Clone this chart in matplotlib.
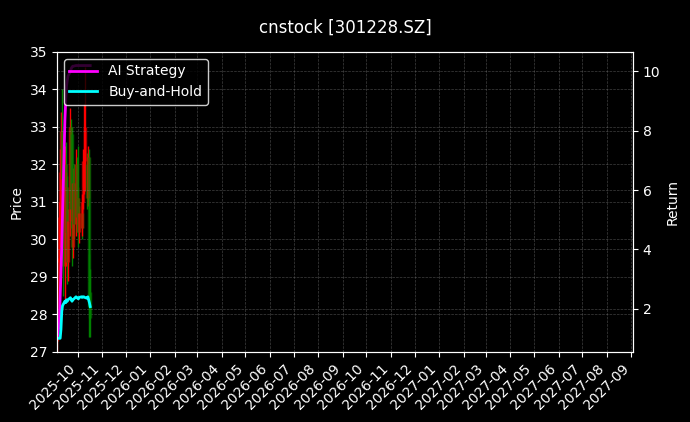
import numpy as np
import pandas as pd
import matplotlib
matplotlib.use("Agg")
import matplotlib.pyplot as plt
import matplotlib.dates as mdates

plt.style.use("dark_background")

# ---- data ----
dates = pd.bdate_range("2025-09-05", "2025-10-17")
opens = [27.3, 29.4, 30.6, 31.8, 32.9, 31.6, 29.3, 32.0, 30.2, 31.4, 29.4,
         30.5, 33.0, 32.8, 29.8, 31.5, 30.4, 32.0, 30.6, 31.1, 30.2, 30.7,
         30.3, 31.0, 31.4, 32.1, 32.0, 31.1, 32.2, 28.9, 28.6]
highs = [29.9, 31.0, 32.4, 33.4, 34.0, 32.8, 32.5, 32.6, 31.8, 31.7, 30.8,
         33.5, 33.2, 33.0, 31.9, 32.0, 32.4, 32.2, 31.4, 32.5, 30.9, 31.0,
         31.2, 32.4, 33.6, 34.6, 32.3, 32.5, 32.4, 29.6, 29.2]
lows = [27.0, 28.2, 29.8, 30.6, 31.2, 28.5, 28.3, 29.6, 29.3, 28.8, 28.9,
        30.1, 30.3, 29.3, 29.5, 30.0, 30.1, 30.2, 30.2, 29.8, 29.9, 30.0,
        30.1, 30.8, 31.2, 31.3, 30.8, 30.9, 28.2, 27.4, 27.4]
closes = [29.5, 30.6, 31.8, 32.9, 31.6, 29.3, 32.0, 30.2, 31.4, 29.4, 30.5,
          33.0, 30.8, 29.8, 31.5, 30.4, 32.0, 30.6, 31.1, 30.2, 30.7, 30.3,
          31.0, 32.1, 32.1, 33.0, 31.1, 32.2, 28.9, 28.2, 27.9]
ai_strategy = [1.0, 1.48, 2.4, 3.2, 4.1, 5.2, 8.36, 9.0, 9.5, 9.7, 9.85,
               10.0, 10.1, 10.15, 10.18, 10.18, 10.2, 10.2, 10.2, 10.2, 10.2, 10.2,
               10.2, 10.2, 10.2, 10.2, 10.2, 10.2, 10.2, 10.2, 10.2]
buy_hold = [1.0, 1.0, 1.0, 1.3, 1.9, 2.1, 2.25, 2.2, 2.3, 2.25, 2.3,
            2.37, 2.3, 2.25, 2.3, 2.32, 2.4, 2.38, 2.35, 2.33, 2.38, 2.4,
            2.38, 2.4, 2.4, 2.38, 2.35, 2.4, 2.3, 2.2, 2.07]

title = "cnstock [301228.SZ]"

# ---- figure ----
fig = plt.figure(figsize=(6.9, 4.22), dpi=100)
ax = fig.add_axes([0.0826, 0.166, 0.8348, 0.711])
ax2 = ax.twinx()

o = np.array(opens); h = np.array(highs); l = np.array(lows); c = np.array(closes)
up = c >= o
cols = np.where(up, "red", "green")
ax.vlines(dates, l, h, colors=cols, linewidth=1.0)
ax.vlines(dates, np.minimum(o, c), np.maximum(o, c), colors=cols, linewidth=2.5, alpha=0.6)

ax2.plot(dates, ai_strategy, color="magenta", linewidth=2, label="AI Strategy")
ax2.plot(dates, buy_hold, color="cyan", linewidth=2, label="Buy-and-Hold")

ax.set_ylim(27, 35)
ax2.set_ylim(0.54, 10.66)
ax.set_xlim(pd.Timestamp("2025-09-05"), pd.Timestamp("2027-09-03"))

ax.xaxis.set_major_locator(mdates.MonthLocator())
ax.xaxis.set_major_formatter(mdates.DateFormatter("%Y-%m"))
plt.setp(ax.get_xticklabels(), rotation=45, ha="right")

ax.set_ylabel("Price", color="white")
ax2.set_ylabel("Return", color="white")

ax.grid(True, linestyle="--", linewidth=0.5, color="gray", alpha=0.5)
ax2.grid(True, linestyle="--", linewidth=0.5, color="gray", alpha=0.5)

for sp in ax2.spines.values():
    sp.set_color("white")

leg = ax2.legend(loc="upper left", facecolor="black", edgecolor="white", framealpha=0.8)
for t in leg.get_texts():
    t.set_color("white")

fig.suptitle(title, color="white", fontsize=12, y=0.955)

fig.savefig("out.png", dpi=100, facecolor="black")
